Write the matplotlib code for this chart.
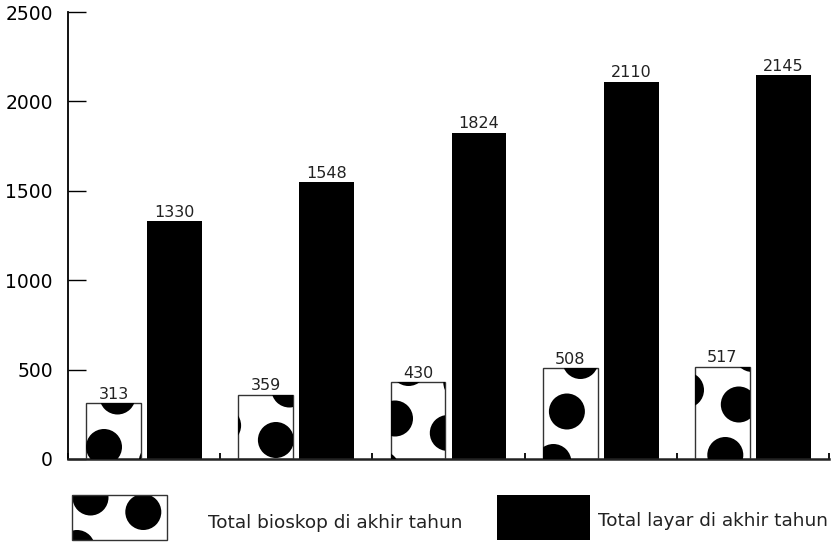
import matplotlib
matplotlib.use("Agg")
import matplotlib.pyplot as plt
import numpy as np
from matplotlib.patches import Circle, Rectangle
from matplotlib.collections import PatchCollection
from matplotlib.transforms import Affine2D

bioskop = [313, 359, 430, 508, 517]
layar = [1330, 1548, 1824, 2110, 2145]
label_bioskop = "Total bioskop di akhir tahun"
label_layar = "Total layar di akhir tahun"

W, H = 831, 542
fig = plt.figure(figsize=(W / 100, H / 100), dpi=100)
ax = fig.add_axes([68 / W, 83 / H, 761 / W, 447 / H])

# pixel space with origin at top-left, used for the dot pattern
pix = Affine2D().scale(1, -1).translate(0, H).scale(1 / W, 1 / H) + fig.transFigure

origin = np.array([104.0, 447.0])
u = np.array([-13.5, 50.5])
v = np.array([52.8, 14.5])
dots = []
for i in range(-12, 14):
    for j in range(-4, 20):
        c = origin + i * u + j * v
        if -40 < c[0] < W + 40 and -40 < c[1] < H + 40:
            dots.append(c)


def dot_fill(clip_patch):
    circles = [Circle((c[0], c[1]), 18) for c in dots]
    pc = PatchCollection(circles, facecolor="black", edgecolor="none",
                         transform=pix, zorder=2.5)
    fig.add_artist(pc)
    pc.set_clip_path(clip_patch)


x = np.arange(len(bioskop))
w = 0.36
off = 0.2

ax.set_xlim(-0.5, len(bioskop) - 0.5)
ax.set_ylim(0, 2500)

bars1 = ax.bar(x - off, bioskop, w, color="white", edgecolor="none", zorder=2)
ax.bar(x - off, bioskop, w, fill=False, edgecolor="#333333", linewidth=1, zorder=3)
bars2 = ax.bar(x + off, layar, w, color="black", edgecolor="none", zorder=2)

for b in bars1:
    dot_fill(b)

for xi, val in zip(x - off, bioskop):
    ax.annotate(str(val), (xi, val), xytext=(0, 1), textcoords="offset points",
                ha="center", va="bottom", fontsize=11.5, color="#222222")
for xi, val in zip(x + off, layar):
    ax.annotate(str(val), (xi, val), xytext=(0, 1), textcoords="offset points",
                ha="center", va="bottom", fontsize=11.5, color="#222222")

ax.spines["top"].set_visible(False)
ax.spines["right"].set_visible(False)
ax.spines["left"].set_linewidth(1.3)
ax.spines["bottom"].set_linewidth(1.8)
ax.spines["bottom"].set_color("#222222")

ax.set_yticks(np.arange(0, 2501, 500))
ax.tick_params(axis="y", direction="in", length=13, width=1, pad=11,
               labelsize=13.5, colors="black")
ax.set_xticks(np.arange(-0.5, len(bioskop), 1))
ax.set_xticklabels([])
ax.tick_params(axis="x", direction="in", length=4.5, width=1.3)

# legend drawn in pixel space below the axes
box1 = Rectangle((72, 495), 95, 45, facecolor="white", edgecolor="none",
                 transform=pix, zorder=2)
fig.add_artist(box1)
dot_fill(box1)
fig.add_artist(Rectangle((72, 495), 95, 45, fill=False, edgecolor="#333333",
                         linewidth=1, transform=pix, zorder=3))
fig.text(208 / W, 1 - 523 / H, label_bioskop, ha="left", va="center",
         fontsize=13.3, color="#222222")

fig.add_artist(Rectangle((497, 495), 93, 45, facecolor="black", edgecolor="none",
                         transform=pix, zorder=2))
fig.text(598 / W, 1 - 521 / H, label_layar, ha="left", va="center",
         fontsize=13.3, color="#222222")

fig.savefig("out.png", dpi=100)
